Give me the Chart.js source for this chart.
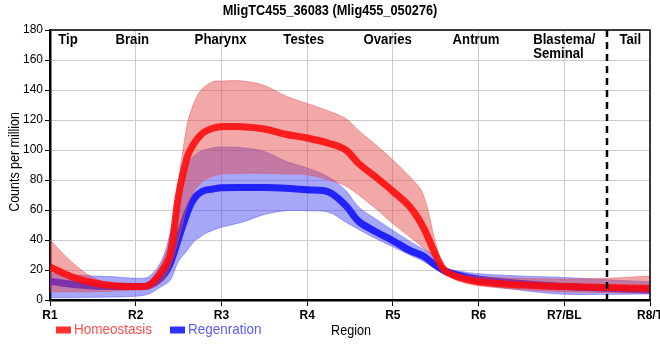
<!doctype html>
<html lang="en">
  <head>
    <meta charset="UTF-8" />
    <title>MligTC455_36083</title>
    <script src="https://cdn.jsdelivr.net/npm/chart.js"></script>
    <style>
      body { margin: 0; background: #fff; }
    </style>
  </head>
  <body>
    <canvas id="regionChart" width="660" height="360"></canvas>

    <script>
      // positions along the body, in region units (R1 = 0 ... R8/T = 7)
      const xs = [0, 0.25, 0.5, 0.75, 1, 1.15, 1.3, 1.4, 1.5, 1.6, 1.65, 1.7, 1.75, 1.8, 1.9, 2, 2.25, 2.5, 2.75, 3,
                  3.25, 3.45, 3.6, 3.8, 4, 4.2, 4.35, 4.5, 4.6, 4.75, 5, 5.5, 6, 6.5, 7];

      const homMean = [22, 15.5, 11.5, 9.5, 9, 9.8, 19, 30, 70, 95, 101.5, 106, 109.5, 112, 114.5, 115.5, 115.5, 114, 110.5, 108,
                       104.5, 100, 91, 82, 72.5, 62, 49, 30, 20, 15.5, 12.2, 10, 9, 8.3, 7.8];
      const homUpper = [40, 25.5, 15, 11, 10.5, 11, 24, 40, 80, 117, 127, 134, 139, 142, 145.5, 146, 146, 143, 136, 131,
                        126, 121, 113, 103.5, 93.3, 82, 71, 38, 22, 17.5, 15.5, 14.5, 14, 14.5, 16];
      const homLower = [5.5, 5.5, 5.5, 6, 6.7, 7.5, 12, 22, 40, 62, 69, 74, 77.5, 80, 82.5, 84, 84.5, 84.5, 84, 83.5,
                        80, 76, 70, 61, 51, 42, 35, 27, 18.5, 13, 9.5, 7, 5.5, 5, 4.5];

      const regMean = [12.5, 10.5, 9.3, 9, 9, 9.5, 15, 24, 41, 58, 64.5, 69, 71.5, 73, 74, 74.8, 75, 75, 74.5, 73.5,
                       72, 63, 52.5, 45.5, 39.5, 33, 29.5, 23, 19.5, 16.7, 13.8, 11, 9, 7.8, 6.7];
      const regUpper = [18, 17, 16, 15.5, 14.5, 15.5, 26, 44, 66, 91, 94.5, 97, 99, 100, 101.5, 102, 101.5, 99, 92.5, 88,
                        82, 73, 62, 54, 46.5, 39, 34, 29, 22, 19.5, 17.5, 16, 15, 13.5, 12.2];
      const regLower = [1.5, 1.5, 1.8, 2, 2.5, 4, 9, 13, 26, 33, 37, 40, 42, 44, 46.5, 48.5, 52, 57, 59.5, 59.5,
                        58.5, 52, 47, 41, 35.5, 30, 26, 21, 18, 14, 10.5, 6.5, 3.8, 3.8, 4];

      const xTickLabels = ["R1", "R2", "R3", "R4", "R5", "R6", "R7/BL", "R8/T"];
      const regionNames = ["Tip", "Brain", "Pharynx", "Testes", "Ovaries", "Antrum", ["Blastema/", "Seminal"], "Tail"];
      const seriesNames = ["Homeostasis", "Regenration"];

      const FONT = "'Liberation Sans Narrow', 'Liberation Sans', Arial, sans-serif";
      Chart.defaults.font.family = FONT;
      Chart.defaults.color = "#000";

      function pts(arr) {
        return xs.map((x, i) => ({ x: x, y: arr[i] }));
      }

      function bandLine(arr, color) {
        return {
          data: pts(arr),
          borderColor: color,
          borderWidth: 1,
          pointRadius: 0,
          tension: 0.35,
          fill: false,
        };
      }

      // index 0 is drawn on top: red line, red band, blue line, blue band
      const datasets = [
        {
          label: seriesNames[0],
          data: pts(homMean),
          borderColor: "rgba(255, 10, 10, 0.88)",
          borderWidth: 7,
          pointRadius: 0,
          tension: 0.35,
          fill: false,
        },
        Object.assign(bandLine(homUpper, "rgba(225, 80, 80, 0.45)"), {
          fill: { target: 2 },
          backgroundColor: "rgba(230, 70, 70, 0.47)",
        }),
        bandLine(homLower, "rgba(225, 80, 80, 0.45)"),
        {
          label: seriesNames[1],
          data: pts(regMean),
          borderColor: "rgba(20, 20, 255, 0.9)",
          borderWidth: 7,
          pointRadius: 0,
          tension: 0.35,
          fill: false,
        },
        Object.assign(bandLine(regUpper, "rgba(80, 80, 240, 0.45)"), {
          fill: { target: 5 },
          backgroundColor: "rgba(60, 60, 245, 0.45)",
        }),
        bandLine(regLower, "rgba(80, 80, 240, 0.45)"),
      ];

      // squeezed text, to stand in for the narrow face of the original
      function narrow(ctx, text, x, y, sx, rot) {
        ctx.save();
        ctx.translate(x, y);
        if (rot) ctx.rotate(rot);
        ctx.scale(sx, 1);
        ctx.fillText(text, 0, 0);
        ctx.restore();
      }

      const extras = {
        id: "extras",
        afterDraw(chart) {
          const ctx = chart.ctx;
          const area = chart.chartArea;
          const x = chart.scales.x;
          ctx.save();

          // title
          ctx.fillStyle = "#000";
          ctx.font = "bold 14px " + FONT;
          ctx.textAlign = "center";
          ctx.textBaseline = "middle";
          narrow(ctx, "MligTC455_36083 (Mlig455_050276)", 330, 11, 0.91);

          // axis titles
          ctx.font = "14px " + FONT;
          narrow(ctx, "Counts per million", 15, 162, 0.89, -Math.PI / 2);
          narrow(ctx, "Region", 351, 331, 0.9);

          // top and right frame
          ctx.strokeStyle = "#000";
          ctx.lineWidth = 1.5;
          ctx.beginPath();
          ctx.moveTo(area.left, area.top);
          ctx.lineTo(area.right, area.top);
          ctx.lineTo(area.right, area.bottom);
          ctx.stroke();

          // tail boundary
          const dx = Math.round(x.getPixelForValue(6.5));
          ctx.lineWidth = 2.5;
          ctx.setLineDash([7, 5]);
          ctx.beginPath();
          ctx.moveTo(dx, area.top);
          ctx.lineTo(dx, area.bottom + 5);
          ctx.stroke();
          ctx.setLineDash([]);

          // region names along the top (two-line name is left aligned)
          const at = [0.21, 0.96, 1.99, 2.96, 3.94, 4.97, 6.0, 6.77];
          ctx.font = "bold 14px " + FONT;
          ctx.textBaseline = "alphabetic";
          regionNames.forEach((name, i) => {
            const px = x.getPixelForValue(at[i]);
            if (Array.isArray(name)) {
              ctx.textAlign = "left";
              const left = px - (ctx.measureText(name[0]).width * 0.94) / 2;
              name.forEach((t, j) => narrow(ctx, t, left, 44 + j * 14, 0.94));
              ctx.textAlign = "center";
            } else {
              narrow(ctx, name, px, 44, 0.94);
            }
          });

          // legend
          const legendCols = [
            { box: "#ff3030", text: "#ff4d4d", x: 56 },
            { box: "#3030ff", text: "#5a5aff", x: 170 },
          ];
          ctx.font = "15px " + FONT;
          ctx.textAlign = "left";
          ctx.textBaseline = "middle";
          legendCols.forEach((c, i) => {
            ctx.fillStyle = c.box;
            ctx.fillRect(c.x, 326.5, 15, 7);
            ctx.fillStyle = c.text;
            narrow(ctx, seriesNames[i], c.x + 18, 330, 0.9);
          });

          ctx.restore();
        },
      };

      new Chart(document.getElementById("regionChart"), {
        type: "line",
        data: { datasets: datasets },
        options: {
          responsive: false,
          animation: false,
          devicePixelRatio: 1,
          layout: { padding: { top: 30, right: 10, left: 0, bottom: 0 } },
          plugins: {
            legend: { display: false },
            tooltip: { enabled: false },
            filler: { propagate: false },
          },
          scales: {
            x: {
              type: "linear",
              min: 0,
              max: 7,
              afterFit: (s) => {
                s.height = 60;
                s.paddingLeft = 0;
                s.paddingRight = 0;
              },
              ticks: {
                stepSize: 1,
                autoSkip: false,
                maxRotation: 0,
                padding: 2,
                font: { size: 12, weight: "bold" },
                callback: (v) => xTickLabels[v],
              },
              grid: { color: "#cccccc", tickColor: "#000", tickLength: 6 },
              border: { color: "#000", width: 2.5 },
            },
            y: {
              min: 0,
              max: 180,
              afterFit: (s) => {
                s.width = 50;
              },
              ticks: { stepSize: 20, padding: 2, font: { size: 12 } },
              grid: { color: "#cccccc", tickColor: "#000", tickLength: 5 },
              border: { color: "#000", width: 2.5 },
            },
          },
        },
        plugins: [extras],
      });
    </script>
  </body>
</html>
